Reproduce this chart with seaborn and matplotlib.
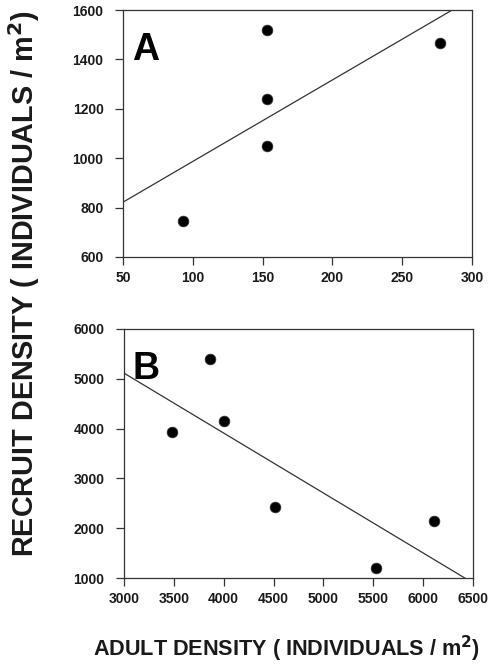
import numpy as np
import pandas as pd
import matplotlib
matplotlib.use("Agg")
import matplotlib.pyplot as plt
import seaborn as sns

# Panel A: adult vs recruit density
adult_a = [93, 153, 153, 153, 277]
recruit_a = [745, 1520, 1240, 1050, 1465]

# Panel B: adult vs recruit density
adult_b = [3480, 3860, 4000, 4510, 5530, 6110]
recruit_b = [3930, 5400, 4160, 2420, 1200, 2150]

xticks_a = [50, 100, 150, 200, 250, 300]
yticks_a = [600, 800, 1000, 1200, 1400, 1600]
xticks_b = [3000, 3500, 4000, 4500, 5000, 5500, 6000, 6500]
yticks_b = [1000, 2000, 3000, 4000, 5000, 6000]

sns.set_style("ticks")
plt.rcParams["font.family"] = ["Liberation Sans", "DejaVu Sans"]

W, H = 488, 666
fig = plt.figure(figsize=(W / 100, H / 100), dpi=100)

def px_axes(left, top, right, bottom):
    return fig.add_axes([left / W, 1 - bottom / H, (right - left) / W, (bottom - top) / H])

ax_a = px_axes(123, 10, 472, 257)
ax_b = px_axes(124, 329, 473, 578)

ink = "#1a1a1a"

def panel(ax, x, y, xticks, yticks, letter):
    ax.set_xlim(xticks[0], xticks[-1])
    ax.set_ylim(yticks[0], yticks[-1])
    df = pd.DataFrame({"adult": x, "recruit": y})
    sns.regplot(data=df, x="adult", y="recruit", ax=ax, ci=None, truncate=False,
                scatter_kws=dict(s=60, color="black", edgecolor="#333333", linewidths=0.5, alpha=1),
                line_kws=dict(color="#333333", lw=0.9))
    ax.set_xlim(xticks[0], xticks[-1])
    ax.set_ylim(yticks[0], yticks[-1])
    ax.set_xticks(xticks)
    ax.set_yticks(yticks)
    ax.set_xlabel("")
    ax.set_ylabel("")
    for s in ax.spines.values():
        s.set_visible(True)
        s.set_linewidth(0.9)
        s.set_color("#333333")
    ax.tick_params(direction="out", length=6, width=0.9, color="#333333",
                   labelsize=10, labelcolor=ink)
    ax.tick_params(axis="x", pad=4)
    ax.tick_params(axis="y", pad=8)
    for lab in ax.get_xticklabels() + ax.get_yticklabels():
        lab.set_fontweight("bold")
    ax.text(0.025, 0.91, letter, transform=ax.transAxes, fontsize=27,
            fontweight="bold", color="black", ha="left", va="top")

panel(ax_a, adult_a, recruit_a, xticks_a, yticks_a, "A")
panel(ax_b, adult_b, recruit_b, xticks_b, yticks_b, "B")

fig.text(24 / W, 1 - 284 / H, "RECRUIT DENSITY ( INDIVIDUALS / m$^\\mathbf{2}$)",
         rotation=90, ha="center", va="center", fontsize=20.8, fontweight="bold", color=ink)
fig.text(287 / W, 1 - 649 / H, "ADULT DENSITY ( INDIVIDUALS / m$^\\mathbf{2}$)",
         ha="center", va="center", fontsize=15.6, fontweight="bold", color=ink)

fig.savefig("out.png", dpi=100)
